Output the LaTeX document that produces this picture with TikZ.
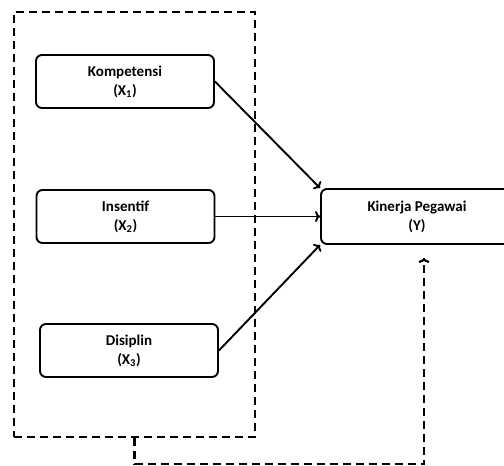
\documentclass[tikz,border=0pt]{standalone}
\usepackage{fontspec}
\setmainfont{Carlito}
\usepackage{tikz}
\usetikzlibrary{arrows.meta}

\begin{document}
\begin{tikzpicture}[x=1pt, y=-1pt,
    varbox/.style={draw, line width=1.9pt, rounded corners=6pt, align=center,
        minimum width=178pt, minimum height=53pt,
        font=\fontsize{15}{19}\selectfont\bfseries},
    dashline/.style={line width=2.2pt, dash pattern=on 8pt off 5pt},
    arr/.style={line width=1.9pt, -{To[length=5pt,width=11pt]}}]
                \useasboundingbox (0,0) rectangle (504,466);
                \clip (0,0) rectangle (504,466);

                \node[dashline, draw, minimum width=241pt, minimum height=425pt] (frame) at (134.5,224.5) {};

                \node[varbox] (kompetensi) at (125,81.5) {Kompetensi\\(X\textsubscript{1})};
                \node[varbox] (insentif) at (125.5,216.5) {Insentif\\(X\textsubscript{2})};
                \node[varbox] (disiplin) at (129,350.5) {Disiplin\\(X\textsubscript{3})};
                \node[varbox, minimum width=192pt, minimum height=55pt] (kinerja) at (417,216.5) {Kinerja Pegawai\\(Y)};

                \draw[arr] (kompetensi.east) -- (kinerja.north west);
                \draw[arr] (insentif.east) -- (kinerja.west);
                \draw[arr] (disiplin.east) -- (kinerja.south west);

                \draw[dashline, -{To[length=5pt,width=11pt]}] (frame.south) -- ++(0,26) -| ([xshift=7pt,yshift=-13pt]kinerja.south);
\end{tikzpicture}
\end{document}
